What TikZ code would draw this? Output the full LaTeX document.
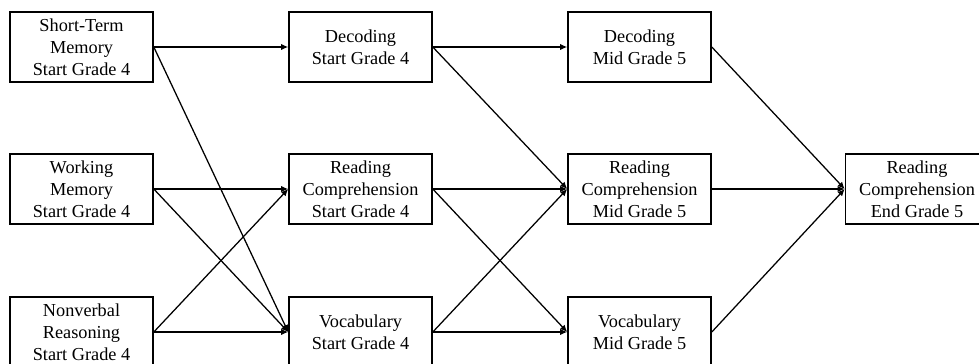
\documentclass[tikz,border=0pt]{standalone}
\usepackage{fontspec}
\setmainfont{Liberation Serif}
\usetikzlibrary{arrows.meta}

\tikzset{
  box/.style={draw, line width=1.1pt, align=center, minimum width=3.575cm,
    minimum height=1.75cm, inner sep=1pt, font=\fontsize{13}{15.6}\selectfont},
  path/.style={line width=0.9pt, -{Latex[length=5pt,width=4.5pt]}}
}

\begin{document}
\begin{tikzpicture}[x=0.025cm, y=-0.025cm]
\clip (0,0) rectangle (979,363);
% predictors, start of grade 4
\node[box] (stm) at (81.5,47) {Short-Term\\Memory\\Start Grade 4};
\node[box] (wm) at (81.5,189) {Working\\Memory\\Start Grade 4};
\node[box] (nvr) at (81.5,332) {Nonverbal\\Reasoning\\Start Grade 4};
% reading skills, start of grade 4
\node[box] (decs) at (360.5,47) {Decoding\\Start Grade 4};
\node[box] (rcs) at (360.5,189) {Reading\\Comprehension\\Start Grade 4};
\node[box] (vocs) at (360.5,332) {Vocabulary\\Start Grade 4};
% mid grade 5
\node[box] (decm) at (639.5,47) {Decoding\\Mid Grade 5};
\node[box] (rcm) at (639.5,189) {Reading\\Comprehension\\Mid Grade 5};
\node[box] (vocm) at (639.5,332) {Vocabulary\\Mid Grade 5};
% outcome
\node[box] (rce) at (917,189) {Reading\\Comprehension\\End Grade 5};

\draw[path] (stm.east) -- (decs.west);
\draw[path] (stm.east) -- (vocs.west);
\draw[path] (wm.east) -- (rcs.west);
\draw[path] (wm.east) -- (vocs.west);
\draw[path] (nvr.east) -- (rcs.west);
\draw[path] (nvr.east) -- (vocs.west);
\draw[path] (decs.east) -- (decm.west);
\draw[path] (decs.east) -- (rcm.west);
\draw[path] (rcs.east) -- (rcm.west);
\draw[path] (rcs.east) -- (vocm.west);
\draw[path] (vocs.east) -- (rcm.west);
\draw[path] (vocs.east) -- (vocm.west);
\draw[path] (decm.east) -- (rce.west);
\draw[path] (rcm.east) -- (rce.west);
\draw[path] (vocm.east) -- (rce.west);
\end{tikzpicture}
\end{document}
